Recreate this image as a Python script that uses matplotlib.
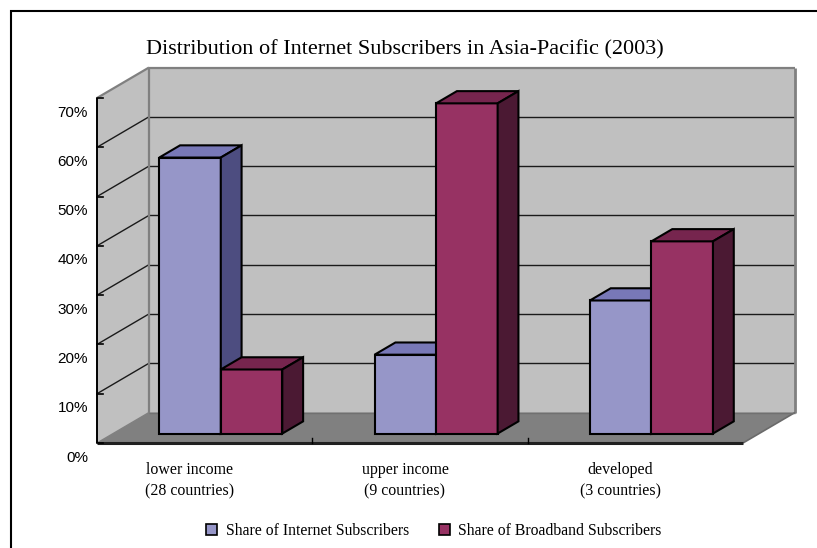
import matplotlib
matplotlib.use("Agg")
import matplotlib.pyplot as plt
from matplotlib.patches import Polygon, Patch, Rectangle

# ---- data -------------------------------------------------------------
category_names = ["lower income", "upper income", "developed"]
category_counts = ["(28 countries)", "(9 countries)", "(3 countries)"]
internet_share = [56, 16, 27]
broadband_share = [13, 67, 39]
series_names = ["Share of Internet Subscribers", "Share of Broadband Subscribers"]
y_ticks = [0, 10, 20, 30, 40, 50, 60, 70]
y_tick_labels = ["0%", "10%", "20%", "30%", "40%", "50%", "60%", "70%"]
title = "Distribution of Internet Subscribers in Asia-Pacific (2003)"

# ---- style ------------------------------------------------------------
W, H, DPI = 817, 548, 100
SERIF = "Liberation Serif"
SANS = "Liberation Sans"
face_colors = [
    # front, top, side
    ("#9696C8", "#7878B7", "#4D4D80"),
    ("#973263", "#76254E", "#4B1933"),
]
WALL = "#C0C0C0"
FLOOR = "#808080"
EDGE = "#808080"

fig = plt.figure(figsize=(W / DPI, H / DPI), dpi=DPI)
fig.patch.set_facecolor("white")

# front plane of the 3-D box, in pixels
FX0, FX1, FY0, FY1 = 97, 743, 443, 98
ax = fig.add_axes([FX0 / W, (H - FY0) / H, (FX1 - FX0) / W, (FY0 - FY1) / H])
ax.set_xlim(0, 3)
ax.set_ylim(0, 70)
ax.axis("off")

# oblique depth offset (full depth) converted to data units
DEPTH_PX_X, DEPTH_PX_Y = 52.0, 30.5
px_per_x = (FX1 - FX0) / 3.0
px_per_y = (FY0 - FY1) / 70.0
DDX = DEPTH_PX_X / px_per_x
DDY = DEPTH_PX_Y / px_per_y


def proj(x, y, d):
    """Oblique projection of (category x, value y, depth d in [0, 1])."""
    return (x + d * DDX, y + d * DDY)


def face(pts, fc, ec="none", lw=0.0, z=1):
    poly = Polygon([proj(*p) for p in pts], closed=True, facecolor=fc,
                   edgecolor=ec, linewidth=lw, zorder=z, clip_on=False,
                   joinstyle="miter")
    ax.add_patch(poly)


def line(p0, p1, color, lw, z=2):
    a, b = proj(*p0), proj(*p1)
    ax.plot([a[0], b[0]], [a[1], b[1]], color=color, lw=lw, zorder=z,
            clip_on=False, solid_capstyle="butt")


ymax = y_ticks[-1]
n = len(category_names)

# walls and floor
face([(0, 0, 1), (n, 0, 1), (n, ymax, 1), (0, ymax, 1)], WALL, z=1)
face([(0, 0, 0), (0, ymax, 0), (0, ymax, 1), (0, 0, 1)], WALL, z=1)
face([(0, 0, 0), (n, 0, 0), (n, 0, 1), (0, 0, 1)], FLOOR, z=1)

# gridlines on the back and side walls
for v in y_ticks[1:-1]:
    line((0, v, 1), (n, v, 1), "#1a1a1a", 1.0, z=2)
    line((0, v, 0), (0, v, 1), "#1a1a1a", 1.0, z=2)

# wall edges
line((0, ymax, 0), (0, ymax, 1), EDGE, 1.6, z=3)
line((0, ymax, 1), (n, ymax, 1), EDGE, 1.6, z=3)
line((n, ymax, 1), (n, 0, 1), EDGE, 2.0, z=3)
line((0, ymax, 1), (0, 0, 1), EDGE, 1.6, z=3)
line((0, 0, 0), (0, 0, 1), EDGE, 1.0, z=3)
line((n, 0, 0), (n, 0, 1), "#6a6a6a", 1.2, z=3)
line((0, 0, 1), (n, 0, 1), "#707070", 1.0, z=3)

# value axis and category axis
line((0, 0, 0), (0, ymax, 0), "black", 1.4, z=6)
line((0, 0, 0), (n, 0, 0), "#202020", 2.2, z=6)
tick_dx = 6.0 / px_per_x
for v, lab in zip(y_ticks, y_tick_labels):
    ax.plot([0, tick_dx], [v, v], color="black", lw=1.2, zorder=6, clip_on=False)
    ax.annotate(lab, (0, v), xytext=(-9, -14.5), textcoords="offset pixels",
                ha="right", va="center", fontsize=11, family=SANS,
                annotation_clip=False)
tick_dy = 5.0 / px_per_y
for i in range(1, n):
    ax.plot([i, i], [0, tick_dy], color="black", lw=1.0, zorder=6, clip_on=False)

# category labels
for i, (nm, cnt) in enumerate(zip(category_names, category_counts)):
    ax.annotate(nm, (i + 0.5, 0), xytext=(-15, -26.5), textcoords="offset pixels",
                ha="center", va="center", fontsize=11.4, family=SERIF,
                annotation_clip=False)
    ax.annotate(cnt, (i + 0.5, 0), xytext=(-15, -48), textcoords="offset pixels",
                ha="center", va="center", fontsize=11.4, family=SERIF,
                annotation_clip=False)

# 3-D bars
GAP = 1.5                       # gap width relative to one bar
BW = 1.0 / (2 + GAP)            # bar width in category units
D0, D1 = 0.31, 0.71             # bar front / back depth
series = [internet_share, broadband_share]
for i in range(n):
    for s, vals in enumerate(series):
        v = vals[i]
        x0 = i + GAP * BW / 2 + s * BW
        x1 = x0 + BW
        front, top, side = face_colors[s]
        kw = dict(ec="black", lw=1.5, z=10 + i * 2 + s)
        face([(x0, 0, D0), (x1, 0, D0), (x1, v, D0), (x0, v, D0)], front, **kw)
        face([(x0, v, D0), (x1, v, D0), (x1, v, D1), (x0, v, D1)], top, **kw)
        face([(x1, 0, D0), (x1, 0, D1), (x1, v, D1), (x1, v, D0)], side, **kw)

# title
fig.text(405 / W, 1 - 50 / H, title, ha="center", va="center",
         fontsize=16, family=SERIF)

# legend
handles = [Patch(facecolor=face_colors[k][0], edgecolor="black", linewidth=1.2)
           for k in range(2)]
fig.legend(handles, series_names, loc="center", bbox_to_anchor=(434 / W, 1 - 531 / H),
           ncol=2, frameon=False, prop={"family": SERIF, "size": 11.3},
           handlelength=0.7, handleheight=0.7, handletextpad=0.55,
           columnspacing=1.9)

# outer chart frame (left and top edges fall inside the canvas)
fig.add_artist(Rectangle((10.5 / W, -0.2), 1.2, 1.2 - 10.5 / H,
                         transform=fig.transFigure, fill=False,
                         edgecolor="black", linewidth=1.5))

fig.savefig("out.png", dpi=DPI)
